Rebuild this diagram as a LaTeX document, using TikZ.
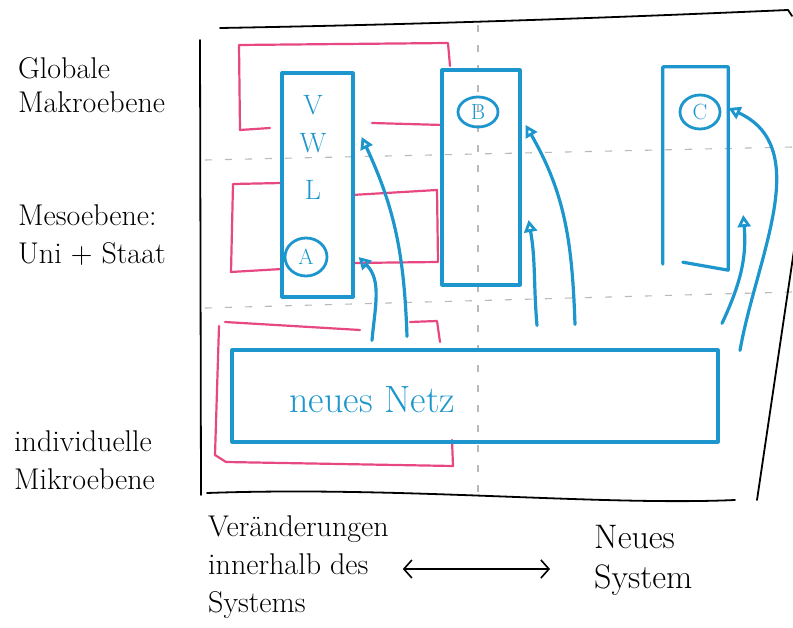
\documentclass[tikz,border=0pt]{standalone}
\usetikzlibrary{arrows.meta,calc,shapes.geometric}
\definecolor{blueink}{RGB}{28,150,205}
\definecolor{pinkink}{RGB}{232,72,130}
\begin{document}
\begin{tikzpicture}[x=1pt,y=-1pt,
  frame/.style={draw=black, line width=1.8pt, line join=round, line cap=round},
  gridline/.style={draw=gray!55, line width=1.1pt, dash pattern=on 7pt off 13pt},
  pinkline/.style={draw=pinkink, line width=2.2pt, line join=round, line cap=round},
  bluebox/.style={draw=blueink, line width=3.2pt, line join=round, rectangle, inner sep=0pt},
  bluecircle/.style={draw=blueink, line width=2.8pt, ellipse, inner sep=0pt, text=blueink, font=\fontsize{22}{24}\selectfont},
  blueletter/.style={text=blueink, font=\fontsize{28}{30}\selectfont},
  flow/.style={draw=blueink, line width=3.2pt, line cap=round, -{Triangle[open,length=12pt,width=13pt,line width=2.8pt]}},
  sidetext/.style={font=\fontsize{30}{38}\selectfont, align=left, anchor=west, inner sep=0pt},
  twoway/.style={draw=black, line width=1.6pt, {Straight Barb[length=8pt,width=18pt]}-{Straight Barb[length=8pt,width=18pt]}}
]
\useasboundingbox (0,0) rectangle (793,628);

% dashed grid
\draw[gridline] (205,160) -- (793,147);
\draw[gridline] (205,308) -- (793,292);
\draw[gridline] (478,25) -- (478,492);

% outer frame
\draw[frame] (200,40) -- (201,495);
\draw[frame] (220,28) .. controls (450,24) and (650,16) .. (788,10) -- (792,16);
\draw[frame] (797,230) -- (757,500);
\draw[frame] (207,493) .. controls (400,486) and (600,506) .. (735,500);

% pink regions
\draw[pinkline] (270,128) -- (240,130) -- (239,45) -- (448,43) -- (450,66);
\draw[pinkline] (372,123) -- (443,125);
\draw[pinkline] (282,183) -- (233,184) -- (231,272) -- (282,269);
\draw[pinkline] (352,195) -- (437,190) -- (438,262) -- (352,263);
\draw[pinkline] (225,322) -- (360,330);
\draw[pinkline] (410,322) -- (437,321) -- (440,342);
\draw[pinkline] (219,326) -- (215,455) -- (226,462) -- (453,466) -- (452,440);

% blue boxes
\node[bluebox, minimum width=71pt, minimum height=224pt] (uwl) at (317.5,185) {};
\node[blueletter] (lv) at (313,105) {V};
\node[blueletter] (lw) at (313,143) {W};
\node[blueletter] (ll) at (313,190) {L};
\node[bluecircle, minimum width=42pt, minimum height=38pt] (ca) at (306,257) {A};

\node[bluebox, minimum width=78pt, minimum height=215pt] (bbox) at (481,177.5) {};
\node[bluecircle, minimum width=40pt, minimum height=30pt] (cb) at (478,112) {B};

\node[rectangle, inner sep=0pt, minimum width=65pt, minimum height=203pt] (cbox) at (695.5,168.5) {};
\draw[draw=blueink, line width=3.2pt, line join=round, line cap=round]
  ([yshift=6pt]cbox.south west) -- (cbox.north west) -- (cbox.north east) -- (cbox.south east) -- ([xshift=20pt,yshift=8pt]cbox.south west);
\node[bluecircle, minimum width=40pt, minimum height=34pt] (cc) at (700,112) {C};

\node[bluebox, minimum width=486pt, minimum height=92pt] (netz) at (475,396) {};
\node[text=blueink, font=\fontsize{38}{40}\selectfont, anchor=west] (netzlabel) at (286,400) {neues Netz};

% arrows from the new network upwards
\draw[flow] ([xshift=-103pt,yshift=8pt]netz.north) to[out=85,in=-45] ([xshift=4pt,yshift=-72pt]uwl.east);
\draw[flow] ([xshift=-68pt,yshift=12pt]netz.north) to[out=92,in=-65] ([xshift=7pt,yshift=48pt]uwl.east);
\draw[flow] ([xshift=62pt,yshift=23pt]netz.north) to[out=95,in=-80] ([xshift=7pt,yshift=-42.5pt]bbox.east);
\draw[flow] ([xshift=100pt,yshift=24pt]netz.north) to[out=92,in=-60] ([xshift=4pt,yshift=52.5pt]bbox.east);
\draw[flow] ([xshift=247pt,yshift=25pt]netz.north) to[out=65,in=-85] ([xshift=15pt,yshift=-46.5pt]cbox.east);
\draw[flow] ([xshift=265pt,yshift=-2pt]netz.north) to[out=80,in=-25] ([xshift=7pt,yshift=4pt]cc.east);

% side labels
\node[sidetext, font=\fontsize{30}{34}\selectfont] (makro) at (18,85) {Globale\\Makroebene};
\node[sidetext] (meso) at (18,235) {Mesoebene:\\Uni + Staat};
\node[sidetext] (mikro) at (14,460) {individuelle\\Mikroebene};

% bottom labels
\node[sidetext, font=\fontsize{30}{38}\selectfont] (innen) at (208,567) {Veränderungen\\innerhalb des\\Systems};
\node[sidetext, font=\fontsize{34}{40}\selectfont] (neu) at (594,560) {Neues\\System};
\coordinate (tl) at ([xshift=14pt,yshift=-2pt]innen.east);
\coordinate (tr) at ([xshift=-44pt]neu.west |- tl);
\draw[twoway] (tl) -- (tr);
\end{tikzpicture}
\end{document}
